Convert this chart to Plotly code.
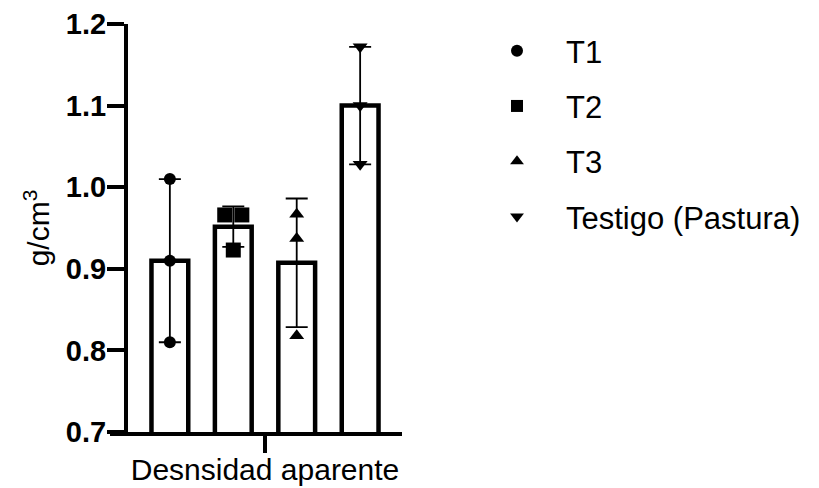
import numpy as np
import plotly.graph_objects as go

# ---- data ----
group_names = ["T1", "T2", "T3", "Testigo (Pastura)"]
t1_values = [1.01, 0.91, 0.81]
t2_values = [0.966, 0.966, 0.923]
t3_values = [0.967, 0.937, 0.818]
testigo_values = [1.172, 1.100, 1.028]
category_label = "Desnsidad aparente"
y_title = "g/cm<sup>3</sup>"
y_ticks = [0.7, 0.8, 0.9, 1.0, 1.1, 1.2]

groups = [t1_values, t2_values, t3_values, testigo_values]
symbols = ["circle", "square", "triangle-up", "triangle-down"]
marker_sizes = [12, 15, 13, 13]

positions = np.arange(len(groups))
means = [float(np.mean(g)) for g in groups]
sds = [float(np.std(g, ddof=1)) for g in groups]


def spread(values, step=0.27):
    """Horizontal offsets for points sharing the same value (scatter dot plot)."""
    vals = np.round(np.asarray(values), 3)
    offs = np.zeros(len(vals))
    for v in np.unique(vals):
        idx = np.where(vals == v)[0]
        n = len(idx)
        offs[idx] = (np.arange(n) - (n - 1) / 2) * step
    return offs


FONT = "Arial, Liberation Sans, sans-serif"

fig = go.Figure()

fig.add_trace(go.Bar(
    x=positions, y=means, width=0.58,
    marker=dict(color="white", line=dict(color="black", width=4.5)),
    error_y=dict(type="data", array=sds, visible=True, color="black",
                 thickness=1.8, width=11),
    showlegend=False, hoverinfo="skip",
))

for i, (name, vals) in enumerate(zip(group_names, groups)):
    xs = positions[i] + spread(vals)
    fig.add_trace(go.Scatter(
        x=xs, y=vals, mode="markers", name=name,
        legendgroup=name,
        marker=dict(symbol=symbols[i], size=marker_sizes[i], color="black",
                    line=dict(width=0)),
    ))

plot_left, plot_right, plot_top, plot_bottom = 128, 402, 24, 432
W, H = 819, 488
pw = plot_right - plot_left
ph = plot_bottom - plot_top

fig.update_layout(
    width=W, height=H,
    margin=dict(l=plot_left, r=W - plot_right, t=plot_top, b=H - plot_bottom,
                pad=0, autoexpand=False),
    paper_bgcolor="white", plot_bgcolor="white",
    font=dict(family=FONT, color="black"),
    showlegend=True,
    legend=dict(x=(468 - plot_left) / pw, y=1.0, xanchor="left", yanchor="top",
                font=dict(size=31, family=FONT), tracegroupgap=12,
                itemwidth=88,
                itemsizing="constant", bgcolor="rgba(0,0,0,0)"),
    xaxis=dict(range=[-0.66, 3.66], tickvals=[1.5], ticktext=[category_label],
               ticks="outside", ticklen=17, tickwidth=4, tickcolor="black",
               showline=True, linewidth=4, linecolor="black",
               showgrid=False, zeroline=False, ticklabelstandoff=-9,
               tickfont=dict(size=30, family=FONT)),
    yaxis=dict(range=[0.7, 1.2], tickvals=y_ticks, tickformat=".1f",
               ticks="outside", ticklen=17, tickwidth=4, tickcolor="black",
               showline=True, linewidth=4, linecolor="black",
               showgrid=False, zeroline=False, ticklabelstandoff=-5,
               tickfont=dict(size=29, family=FONT, weight="bold"),
               title=dict(text=y_title, font=dict(size=30, family=FONT),
                          standoff=8)),
    shapes=[dict(type="line", xref="paper", yref="paper",
                 x0=-18 / pw, x1=0, y0=-2 / ph, y1=-2 / ph,
                 line=dict(color="black", width=4))],
)

fig.write_html("out.html",
               config={"displayModeBar": False},
               post_script="document.body.style.margin='0';")
